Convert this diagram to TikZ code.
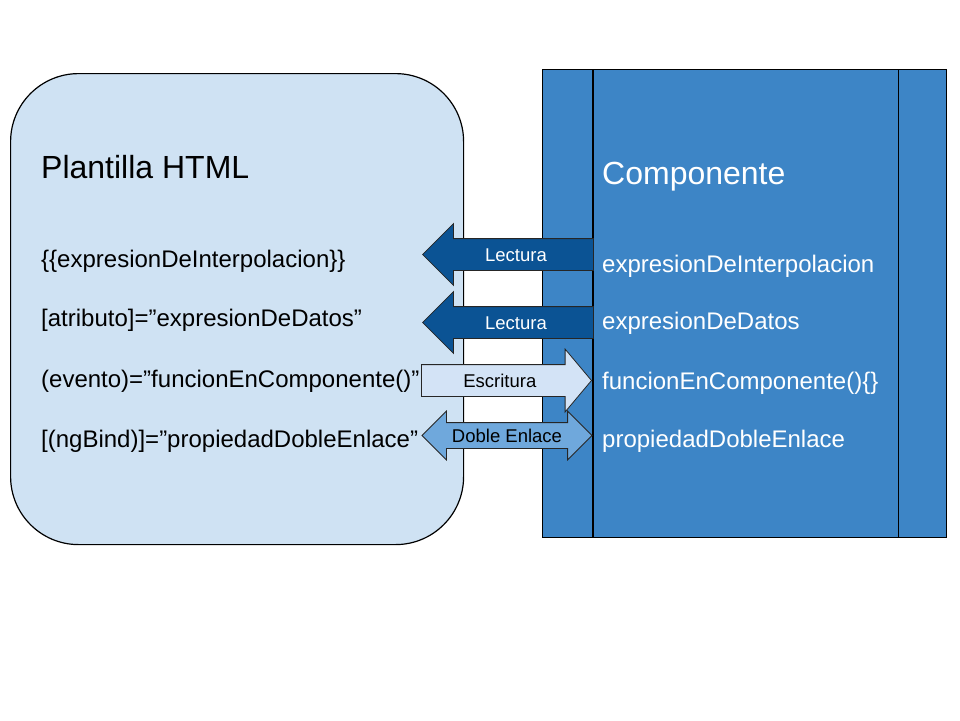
\documentclass[tikz,border=0pt]{standalone}
\usepackage{fontspec}
\setmainfont{Liberation Sans}
\usetikzlibrary{shapes.arrows,positioning,calc}
\definecolor{fondoPl}{HTML}{CFE2F3}
\definecolor{fondoCo}{HTML}{3D85C6}
\definecolor{lectura}{HTML}{0B5394}
\definecolor{escritura}{HTML}{D3E3F6}
\definecolor{doble}{HTML}{6FA8DC}
\newcommand{\titulo}{\fontsize{32}{38}\selectfont}
\newcommand{\linea}{\fontsize{24}{29}\selectfont}
\newcommand{\rotulo}{\fontsize{18.5}{22}\selectfont}
\tikzset{
  caja/.style={draw=black, line width=1.2pt, fill=#1, inner sep=0pt},
  txt/.style={anchor=base west, inner sep=0pt, font=\linea, text=#1},
  txt/.default=black,
  flecha/.style={single arrow, draw=black!85, line width=0.8pt, fill=#1, font=\rotulo,
                 minimum height=171, single arrow head extend=15,
                 text height=15, text depth=2, inner ysep=7, inner xsep=0pt},
  dflecha/.style={double arrow, draw=black!85, line width=0.8pt, fill=#1, font=\rotulo,
                  minimum height=170, double arrow head extend=11.5, double arrow tip angle=90,
                  text height=14, text depth=1, inner ysep=5, inner xsep=0pt},
}
\begin{document}
\begin{tikzpicture}[x=1pt, y=-1pt]
  \useasboundingbox (0,0) rectangle (960,720);
  % cajas
  \node[caja=fondoPl, rounded corners=68, minimum width=453, minimum height=471,
        anchor=north west] (plantilla) at (10,73) {};
  \node[caja=fondoCo, minimum width=404, minimum height=468, anchor=north west] (comp) at (542,69) {};
  \draw[line width=1.2pt] ([xshift=51]comp.north west) -- ([xshift=51]comp.south west);
  \draw[line width=1.2pt] ([xshift=-49]comp.north east) -- ([xshift=-49]comp.south east);
  % textos de la plantilla
  \node[txt, font=\titulo] (tP) at (41,178) {Plantilla HTML};
  \node[txt] (p1) at (41,267) {\{\{expresionDeInterpolacion\}\}};
  \node[txt] (p2) at (41,326) {[atributo]=”expresionDeDatos”};
  \node[txt] (p3) at (41,387) {(evento)=”funcionEnComponente()”};
  \node[txt] (p4) at (41,447) {[(ngBind)]=”propiedadDobleEnlace”};
  % textos del componente
  \node[txt=white, font=\titulo] (tC) at (602,184) {Componente};
  \node[txt=white] (c1) at (602,272) {expresionDeInterpolacion};
  \node[txt=white] (c2) at (602,329) {expresionDeDatos};
  \node[txt=white] (c3) at (602,389) {funcionEnComponente()\{\}};
  \node[txt=white] (c4) at (602,447) {propiedadDobleEnlace};
  % flechas
  \node[flecha=lectura, text=white, shape border rotate=180, single arrow tip angle=90,
        anchor=tip] (l1) at (422,254.5) {Lectura};
  \node[flecha=lectura, text=white, shape border rotate=180, single arrow tip angle=90,
        anchor=tip] (l2) at (422,322.5) {Lectura};
  \node[flecha=escritura, minimum height=170, single arrow tip angle=100, single arrow head extend=15.5,
        anchor=tip] (e1) at (592,380.5) {Escritura};
  \node[dflecha=doble] (d1) at (507,435.5) {Doble Enlace};
\end{tikzpicture}
\end{document}
